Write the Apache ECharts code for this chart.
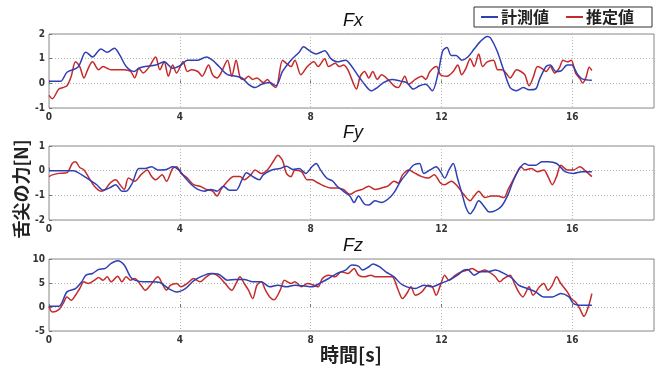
<!DOCTYPE html>
<html>
<head>
<meta charset="utf-8">
<script src="https://cdn.jsdelivr.net/npm/echarts@6/dist/echarts.min.js"></script>
<style>
  html, body { margin: 0; padding: 0; background: #fff; }
  #chart { width: 661px; height: 372px; }
</style>
</head>
<body>
<div id="chart"></div>
<script>
// Tongue-tip force components: measured (計測値) vs estimated (推定値)
const panelTitles = ['Fx', 'Fy', 'Fz'];
const seriesNames = ['計測値', '推定値'];
const xTicks = [0, 4, 8, 12, 16];

// Fx
const fxMeasT = [0,0.35,0.55,0.88,1.07,1.13,1.33,1.59,1.78,2.0,2.17,2.36,2.6,2.75,2.94,3.26,3.52,3.78,4.04,4.23,4.55,4.81,5.0,5.2,5.46,5.72,5.9,6.1,6.3,6.5,6.75,6.94,7.14,7.4,7.65,7.78,7.97,8.17,8.43,8.62,8.81,9.07,9.26,9.46,9.65,9.85,10.04,10.23,10.49,10.75,10.94,11.14,11.33,11.52,11.72,11.9,12.04,12.17,12.3,12.45,12.62,12.8,13.0,13.2,13.4,13.5,13.7,13.9,14.1,14.3,14.5,14.68,14.88,15.0,15.2,15.33,15.5,15.65,15.85,15.98,16.17,16.3,16.6];
const fxMeasV = [0.08,0.08,0.45,0.65,1.2,1.26,1.07,1.39,1.26,1.42,1.13,0.68,0.48,0.61,0.68,0.74,0.87,0.61,0.74,0.94,0.94,1.07,0.94,0.68,0.35,0.29,0.22,-0.04,-0.17,-0.04,0.03,-0.1,0.48,0.94,1.26,1.48,1.32,1.19,1.32,1.0,0.87,0.94,0.68,0.29,-0.04,-0.3,-0.17,0.03,0.16,0.09,0.03,-0.23,-0.1,-0.04,-0.3,0.42,1.32,1.45,1.13,1.13,0.94,1.06,1.39,1.71,1.9,1.84,1.32,0.55,-0.17,-0.3,-0.17,-0.26,-0.23,0.16,0.68,0.74,0.48,0.5,0.74,0.74,0.35,0.18,0.12];
const fxEstT = [0,0.1,0.3,0.43,0.55,0.68,0.81,0.94,1.07,1.2,1.33,1.52,1.65,1.78,1.9,2.1,2.3,2.5,2.62,2.75,2.88,3.07,3.26,3.39,3.52,3.65,3.78,3.9,4.1,4.23,4.36,4.55,4.68,4.88,5.0,5.14,5.26,5.46,5.59,5.72,5.85,5.97,6.1,6.23,6.36,6.55,6.68,6.8,6.94,7.14,7.26,7.4,7.52,7.7,7.9,8.1,8.23,8.43,8.55,8.75,8.88,9.0,9.14,9.26,9.4,9.52,9.65,9.78,9.9,10.04,10.17,10.36,10.55,10.68,10.88,11.0,11.2,11.4,11.52,11.65,11.85,11.97,12.17,12.36,12.5,12.62,12.75,12.88,13.0,13.14,13.26,13.4,13.59,13.72,13.85,13.97,14.1,14.3,14.43,14.55,14.68,14.8,14.94,15.07,15.2,15.33,15.46,15.6,15.72,15.85,15.97,16.1,16.23,16.32,16.42,16.52,16.6];
const fxEstV = [-0.49,-0.62,-0.23,-0.17,-0.1,0.29,0.87,0.68,0.22,0.61,0.87,0.55,0.68,0.61,0.55,0.55,0.55,0.48,0.22,0.61,0.42,0.68,1.07,0.55,0.87,0.29,0.74,0.42,0.87,0.48,0.55,0.48,0.29,0.74,0.35,0.22,0.42,0.94,0.29,0.94,0.22,0.16,0.29,0.16,0.22,0.03,0.16,-0.04,-0.17,0.94,0.81,0.68,0.94,0.35,0.68,0.87,0.68,1.0,0.68,0.81,0.68,0.74,0.55,0.16,-0.23,0.29,0.48,0.22,0.48,0.16,0.35,0.16,-0.1,-0.17,0.29,-0.04,0.16,0.29,0.16,0.48,0.68,0.35,0.29,0.48,0.74,0.35,0.61,1.0,0.68,1.19,0.68,0.87,0.94,0.55,0.55,0.42,0.22,0.55,0.48,0.35,-0.1,0.22,0.68,0.61,0.48,0.68,0.42,0.61,0.94,0.87,0.94,0.42,0.2,0.01,0.24,0.65,0.52];

// Fy
const fyMeasT = [0,0.75,1.0,1.26,1.46,1.65,1.85,2.04,2.23,2.36,2.55,2.75,2.94,3.14,3.33,3.59,3.78,3.97,4.17,4.36,4.55,4.75,4.94,5.14,5.33,5.52,5.72,5.9,6.04,6.23,6.43,6.55,6.81,7.07,7.26,7.46,7.65,7.85,8.04,8.17,8.3,8.49,8.68,8.81,9.0,9.2,9.33,9.46,9.65,9.78,9.97,10.17,10.36,10.55,10.75,10.94,11.14,11.33,11.46,11.65,11.84,11.97,12.1,12.23,12.36,12.49,12.62,12.75,12.88,13.0,13.14,13.33,13.46,13.65,13.85,14.04,14.17,14.36,14.55,14.68,14.88,15.07,15.26,15.52,15.78,16.04,16.3,16.6];
const fyMeasV = [0,0,-0.17,-0.39,-0.57,-0.79,-0.7,-0.57,-0.83,-0.83,-0.5,0.09,0.09,0.16,0.03,0.05,0.16,0.03,-0.3,-0.57,-0.76,-0.83,-0.76,-0.83,-0.63,-0.79,-0.79,-0.37,-0.08,-0.24,-0.37,-0.17,0.03,0.09,0.18,0.05,0.09,-0.11,0.16,0.29,0.03,-0.3,-0.43,-0.63,-0.83,-1.03,-1.29,-1.03,-1.36,-1.39,-1.22,-1.29,-1.16,-0.89,-0.43,-0.11,0.22,0.29,-0.11,0.03,0.16,-0.04,-0.3,0.03,0.29,-0.3,-0.89,-1.49,-1.75,-1.55,-1.22,-1.49,-1.68,-1.62,-1.42,-0.96,-0.5,0.03,0.29,0.22,0.22,0.36,0.36,0.29,-0.04,-0.11,-0.04,-0.04];
const fyEstT = [0,0.1,0.3,0.55,0.71,0.81,0.94,1.07,1.2,1.39,1.59,1.72,1.87,2.04,2.17,2.3,2.43,2.62,2.81,3.0,3.14,3.26,3.46,3.59,3.78,3.9,4.04,4.23,4.42,4.62,4.81,5.0,5.14,5.26,5.46,5.65,5.84,5.97,6.17,6.3,6.49,6.68,6.88,7.0,7.14,7.26,7.4,7.52,7.72,7.9,8.04,8.23,8.43,8.62,8.81,9.0,9.2,9.39,9.58,9.78,9.97,10.17,10.36,10.55,10.68,10.81,11.0,11.2,11.4,11.59,11.78,11.97,12.1,12.3,12.49,12.68,12.88,13.0,13.14,13.33,13.52,13.72,13.91,14.04,14.17,14.3,14.43,14.55,14.75,14.94,15.13,15.26,15.39,15.52,15.65,15.85,16.04,16.23,16.43,16.6];
const fyEstV = [-0.24,-0.17,-0.11,-0.08,0.29,0.36,0.13,0.03,-0.24,-0.63,-0.83,-0.76,-0.5,-0.37,-0.57,-0.76,-0.3,-0.43,-0.17,0.03,-0.24,-0.37,-0.17,-0.43,0.09,0.16,-0.11,-0.3,-0.57,-0.63,-0.76,-0.83,-1.03,-0.76,-0.43,-0.24,-0.24,-0.37,-0.17,0.03,-0.11,0.03,0.42,0.62,0.42,-0.11,-0.24,0.03,-0.04,-0.37,-0.37,-0.5,-0.63,-0.7,-0.7,-0.76,-0.96,-0.83,-0.76,-0.63,-0.76,-0.7,-0.63,-0.43,-0.5,-0.17,0.03,-0.11,-0.24,-0.3,-0.17,-0.5,-0.57,-0.43,-0.63,-0.96,-1.22,-1.03,-0.83,-1.09,-1.03,-1.03,-1.09,-0.76,-0.43,-0.11,0.16,0.03,0.09,-0.04,0.03,-0.24,-0.57,-0.24,0.22,0.03,0.03,0.16,-0.04,-0.24];

// Fz
const fzMeasT = [0,0.3,0.55,0.81,1.0,1.13,1.33,1.52,1.72,1.9,2.1,2.3,2.49,2.62,2.88,3.14,3.39,3.65,3.9,4.17,4.42,4.68,4.94,5.2,5.46,5.72,5.97,6.23,6.49,6.75,7.0,7.26,7.52,7.78,8.04,8.3,8.55,8.81,9.07,9.26,9.46,9.59,9.78,9.91,10.1,10.3,10.55,10.75,10.94,11.2,11.46,11.72,11.97,12.23,12.49,12.68,12.8,13.0,13.2,13.4,13.65,13.91,14.17,14.36,14.62,14.88,15.13,15.4,15.65,15.9,16.04,16.3,16.6];
const fzMeasV = [0.14,0.14,3.15,3.85,5.24,6.64,6.99,7.83,8.04,9.09,9.65,8.74,6.29,5.59,5.24,5.24,5.1,3.85,3.15,3.85,5.45,6.43,6.99,6.78,5.59,5.73,5.73,5.24,5.24,4.2,4.55,4.2,4.55,4.41,4.2,5.03,5.94,6.99,7.69,8.74,8.53,7.69,8.39,8.95,8.39,7.34,6.29,4.9,4.2,3.85,4.55,4.2,4.9,5.59,6.64,7.69,7.83,6.64,7.34,7.34,7.69,6.99,5.94,4.55,3.85,3.15,2.1,2.1,2.8,2.1,0.7,0.35,0.35];
const fzEstT = [0,0.1,0.3,0.43,0.55,0.68,0.81,0.94,1.07,1.2,1.39,1.52,1.65,1.78,1.9,2.1,2.23,2.36,2.49,2.62,2.81,2.94,3.14,3.33,3.46,3.59,3.72,3.9,4.04,4.23,4.42,4.62,4.81,5.0,5.2,5.39,5.59,5.72,5.84,5.97,6.1,6.23,6.36,6.49,6.62,6.75,6.88,7.07,7.2,7.4,7.52,7.72,7.9,8.1,8.23,8.36,8.55,8.75,8.94,9.14,9.33,9.46,9.65,9.84,9.97,10.17,10.36,10.49,10.68,10.81,10.94,11.07,11.2,11.4,11.59,11.72,11.84,11.97,12.1,12.23,12.43,12.62,12.8,12.94,13.14,13.33,13.52,13.65,13.78,13.91,14.1,14.23,14.36,14.49,14.68,14.8,15.0,15.13,15.26,15.39,15.52,15.65,15.85,15.97,16.1,16.23,16.36,16.49,16.6];
const fzEstV = [0.14,-1.05,-0.56,0.7,2.1,1.4,2.45,3.85,5.24,4.9,5.59,6.15,5.59,6.29,5.24,6.43,5.24,6.29,5.59,5.94,4.55,3.5,4.9,6.29,4.9,3.5,4.55,4.9,4.2,4.9,5.94,5.24,6.29,6.99,6.29,4.9,3.5,4.9,6.29,4.9,3.5,1.75,4.55,5.24,3.5,2.1,1.5,3.5,5.59,4.9,5.24,4.2,4.9,4.55,4.2,5.94,6.64,6.29,7.34,6.99,8.04,6.64,6.29,6.64,6.29,6.29,6.29,6.29,3.5,1.75,2.8,4.2,2.45,3.15,4.55,4.2,2.45,4.55,6.64,5.59,6.64,7.34,7.69,8.04,7.34,7.69,6.99,6.29,5.24,5.94,6.64,4.9,3.15,2.1,4.2,2.45,4.2,4.9,3.5,4.55,6.29,4.9,3.15,1.75,1.05,-0.35,-1.95,0.0,2.8];

// y-axis ranges for the three panels
const yMins = [-1, -2, -5];
const yMaxs = [2, 1, 10];
const yIntervals = [1, 1, 5];

const zip = (t, v) => t.map((x, i) => [x, v[i]]);
const panelData = [
  [zip(fxMeasT, fxMeasV), zip(fxEstT, fxEstV)],
  [zip(fyMeasT, fyMeasV), zip(fyEstT, fyEstV)],
  [zip(fzMeasT, fzMeasV), zip(fzEstT, fzEstV)]
];

const blue = '#2f3fb4';
const red = '#c42a2a';
const tickFont = "'Liberation Sans Narrow','DejaVu Sans Condensed','Roboto Condensed',Arial,sans-serif";
const cjkFont = "'Noto Sans CJK JP','Noto Sans',sans-serif";

const gridTops = [34, 146, 259];
const gridHeights = [74, 74, 72];

const grids = [], xAxes = [], yAxes = [], series = [], titles = [];
for (let i = 0; i < 3; i++) {
  grids.push({
    left: 49, width: 605, top: gridTops[i], height: gridHeights[i],
    show: true, borderColor: '#8a8a8a', borderWidth: 1, backgroundColor: '#fff'
  });
  xAxes.push({
    type: 'value', gridIndex: i, min: 0, max: 18.5, interval: 4,
    axisLine: { show: false },
    axisTick: { show: true, inside: true, length: 3, lineStyle: { color: '#777' } },
    axisLabel: {
      showMaxLabel: false, color: '#333', fontSize: 10, fontWeight: 'bold',
      fontFamily: tickFont, margin: 4,
      formatter: v => (xTicks.indexOf(v) >= 0 ? String(v) : '')
    },
    splitLine: { show: true, lineStyle: { color: '#b8b8b8', type: [1, 2], width: 1 } }
  });
  yAxes.push({
    type: 'value', gridIndex: i, min: yMins[i], max: yMaxs[i], interval: yIntervals[i],
    axisLine: { show: false },
    axisTick: { show: true, inside: true, length: 3, lineStyle: { color: '#777' } },
    axisLabel: { color: '#333', fontSize: 10, fontWeight: 'bold', fontFamily: tickFont, margin: 4 },
    splitLine: { show: true, lineStyle: { color: '#b8b8b8', type: [1, 2], width: 1 } }
  });
  titles.push({
    text: panelTitles[i], left: 348, textAlign: 'center', top: gridTops[i] - 27,
    textStyle: { fontSize: 18, fontStyle: 'italic', fontWeight: 'normal', color: '#111', fontFamily: 'Liberation Sans, Arial, sans-serif' }
  });
  [0, 1].forEach(k => {
    series.push({
      name: seriesNames[k], type: 'line', xAxisIndex: i, yAxisIndex: i,
      data: panelData[i][k], symbol: 'none', smooth: 0.3,
      lineStyle: { color: k === 0 ? blue : red, width: 1.5 },
      itemStyle: { color: k === 0 ? blue : red },
      z: k === 0 ? 3 : 2
    });
  });
}

const chart = echarts.init(document.getElementById('chart'), null, { renderer: 'canvas' });
chart.setOption({
  animation: false,
  backgroundColor: '#fff',
  title: titles,
  legend: {
    data: seriesNames, left: 474, top: 7,
    padding: [2, 18, 2, 7], itemGap: 17, itemWidth: 17, itemHeight: 2, icon: 'rect',
    borderColor: '#333', borderWidth: 1, backgroundColor: '#fff',
    textStyle: { fontSize: 16, color: '#222', fontFamily: cjkFont, fontWeight: 'bold', padding: [0, 0, 0, -2] }
  },
  grid: grids, xAxis: xAxes, yAxis: yAxes, series: series,
  graphic: [
    {
      type: 'text', x: 21, y: 189, rotation: Math.PI / 2,
      style: { text: '舌尖の力[N]', font: "bold 18px 'Noto Sans CJK JP', sans-serif", fill: '#222', align: 'center', verticalAlign: 'middle' }
    },
    {
      type: 'text', x: 351, y: 355,
      style: { text: '時間[s]', font: "bold 19px 'Noto Sans CJK JP', sans-serif", fill: '#222', align: 'center', verticalAlign: 'middle' }
    }
  ]
});
</script>
</body>
</html>
